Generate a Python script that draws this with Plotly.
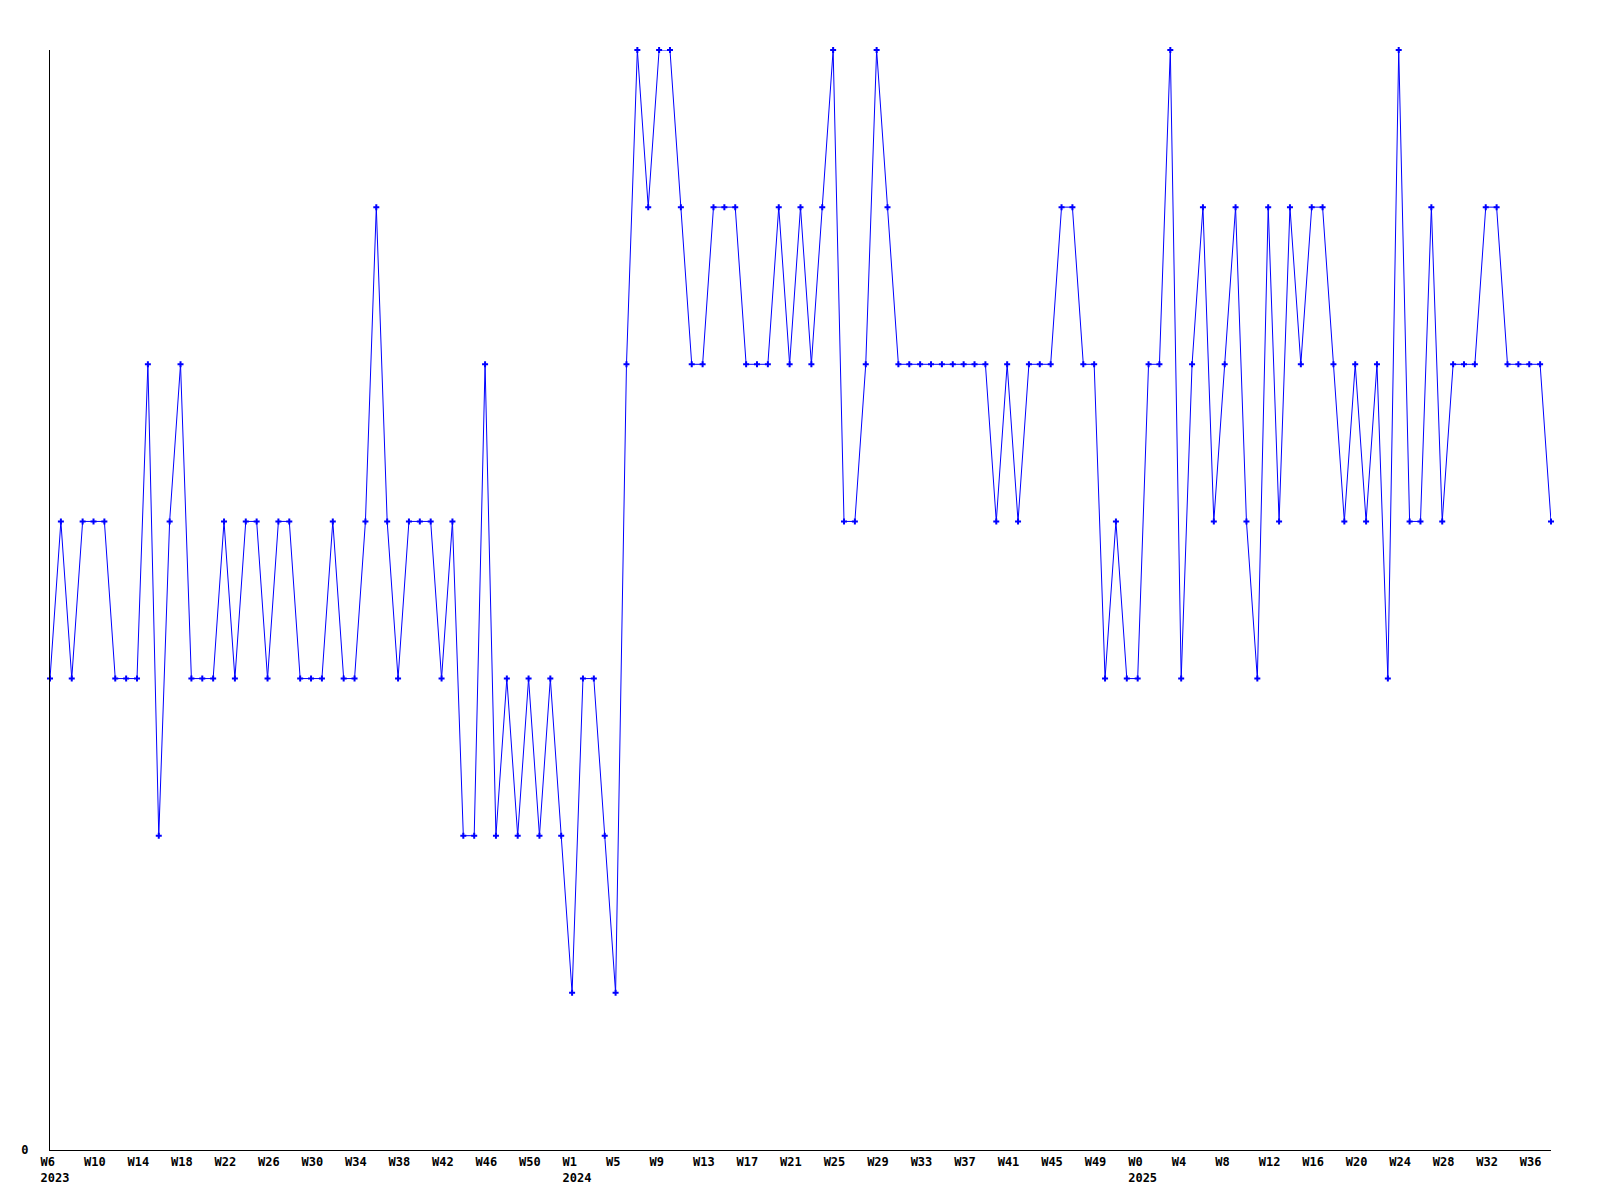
import plotly.graph_objects as go

values = [
    3, 4, 3, 4, 4, 4, 3, 3, 3, 5, 2, 4, 5, 3, 3, 3, 4, 3, 4, 4,
    3, 4, 4, 3, 3, 3, 4, 3, 3, 4, 6, 4, 3, 4, 4, 4, 3, 4, 2, 2,
    5, 2, 3, 2, 3, 2, 3, 2, 1, 3, 3, 2, 1, 5, 7, 6, 7, 7, 6, 5,
    5, 6, 6, 6, 5, 5, 5, 6, 5, 6, 5, 6, 7, 4, 4, 5, 7, 6, 5, 5,
    5, 5, 5, 5, 5, 5, 5, 4, 5, 4, 5, 5, 5, 6, 6, 5, 5, 3, 4, 3,
    3, 5, 5, 7, 3, 5, 6, 4, 5, 6, 4, 3, 6, 4, 6, 5, 6, 6, 5, 4,
    5, 4, 5, 3, 7, 4, 4, 6, 4, 5, 5, 5, 6, 6, 5, 5, 5, 5, 4,
]

tick_labels = [
    "W6<br>2023", "W10", "W14", "W18", "W22", "W26", "W30", "W34", "W38", "W42", "W46", "W50",
    "W1<br>2024", "W5", "W9", "W13", "W17", "W21", "W25", "W29", "W33", "W37", "W41", "W45", "W49",
    "W0<br>2025", "W4", "W8", "W12", "W16", "W20", "W24", "W28", "W32", "W36",
]
tick_step = 4
y_tick_labels = ["0"]

x = list(range(len(values)))
tickvals = list(range(0, len(values), tick_step))[: len(tick_labels)]

font = dict(family="DejaVu Sans Mono", size=12, color="black", weight="bold")

fig = go.Figure(
    go.Scatter(
        x=x,
        y=values,
        mode="lines+markers",
        line=dict(color="#0000ff", width=1),
        marker=dict(symbol="cross", size=5, color="#0000ff", line=dict(width=0)),
        cliponaxis=False,
        showlegend=False,
    )
)

fig.update_layout(
    width=1600,
    height=1200,
    margin=dict(l=42, r=57, t=42, b=58),
    paper_bgcolor="white",
    plot_bgcolor="white",
    font=font,
)
fig.update_xaxes(
    range=[0, len(values) - 1],
    tickvals=tickvals,
    ticktext=tick_labels,
    ticks="",
    showgrid=False,
    zeroline=False,
    showline=True,
    linecolor="black",
    linewidth=1,
    ticklabelposition="outside right",
    ticklabelshift=-10,
    ticklabelstandoff=1,
    tickfont=font,
)
fig.update_yaxes(
    range=[0, 7],
    tickvals=[0],
    ticktext=y_tick_labels,
    ticks="",
    showgrid=False,
    zeroline=False,
    showline=True,
    linecolor="black",
    linewidth=1,
    ticklabelstandoff=18,
    tickfont=font,
)

fig.write_html("out.html")
